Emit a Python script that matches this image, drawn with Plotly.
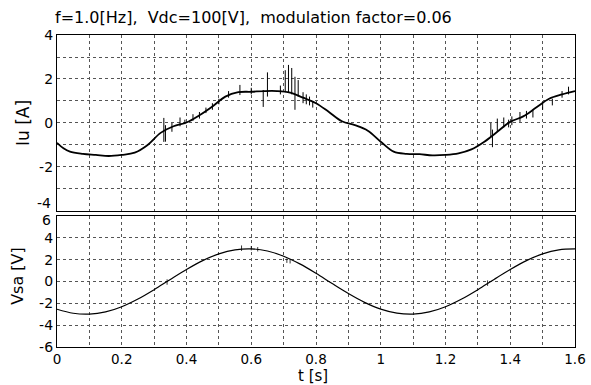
import plotly.graph_objects as go

# ---- data ----
t_iu = [0.00, 0.02, 0.04, 0.08, 0.12, 0.16, 0.20, 0.24, 0.28, 0.32, 0.36, 0.40, 0.44, 0.48,
        0.52, 0.56, 0.60, 0.64, 0.68, 0.72, 0.76, 0.80, 0.84, 0.88, 0.92, 0.96, 1.00, 1.04,
        1.08, 1.12, 1.16, 1.20, 1.24, 1.28, 1.32, 1.36, 1.40, 1.44, 1.48, 1.52, 1.56, 1.60]
iu = [-0.90, -1.15, -1.30, -1.40, -1.45, -1.50, -1.45, -1.35, -1.00, -0.45, -0.15, 0.02, 0.35, 0.75,
      1.20, 1.40, 1.42, 1.45, 1.45, 1.38, 1.15, 0.90, 0.50, 0.08, -0.10, -0.35, -0.85, -1.30,
      -1.40, -1.42, -1.47, -1.45, -1.38, -1.20, -0.85, -0.40, 0.05, 0.30, 0.70, 1.10, 1.30, 1.45]

# current spikes: time, low, high
sp_t = [0.330, 0.335, 0.355, 0.380, 0.395, 0.420, 0.440, 0.460, 0.480, 0.500, 0.530, 0.565,
        0.600, 0.637, 0.650, 0.690, 0.705, 0.715, 0.725, 0.735, 0.745, 0.760, 0.770, 0.780,
        0.790, 1.340, 1.345, 1.360, 1.380, 1.395, 1.405, 1.430, 1.450, 1.470, 1.500, 1.530,
        1.560, 1.580]
sp_lo = [-0.86, -0.85, -0.40, -0.15, -0.05, 0.10, 0.20, 0.45, 0.60, 0.85, 1.15, 1.27,
         1.30, 0.73, 1.20, 1.30, 1.40, 1.40, 1.30, 0.60, 1.20, 0.90, 0.85, 0.80,
         0.70, -0.63, -1.10, -0.40, -0.20, -0.20, -0.10, 0.05, 0.20, 0.25, 0.60, 0.80,
         1.15, 1.30]
sp_hi = [0.23, -0.10, 0.00, 0.25, 0.15, 0.40, 0.50, 0.70, 0.90, 1.10, 1.45, 1.73,
         1.60, 1.50, 2.30, 1.70, 2.40, 2.64, 2.50, 2.10, 1.95, 1.40, 1.30, 1.20,
         1.00, 0.00, -0.30, 0.20, 0.25, 0.15, 0.30, 0.50, 0.55, 0.60, 0.95, 1.10,
         1.45, 1.65]

t_v = [0.00, 0.05, 0.10, 0.15, 0.20, 0.25, 0.30, 0.35, 0.40, 0.45, 0.50, 0.55, 0.60, 0.65, 0.70,
       0.75, 0.80, 0.85, 0.90, 0.95, 1.00, 1.05, 1.10, 1.15, 1.20, 1.25, 1.30, 1.35, 1.40, 1.45,
       1.50, 1.55, 1.60]
vsa = [-2.54, -2.91, -2.99, -2.79, -2.31, -1.61, -0.75, 0.19, 1.10, 1.91, 2.53, 2.90, 2.99, 2.79, 2.31,
       1.61, 0.75, -0.19, -1.10, -1.91, -2.53, -2.90, -2.99, -2.79, -2.31, -1.61, -0.75, 0.19, 1.10, 1.91,
       2.53, 2.90, 2.99]

vsp_t = [0.340, 0.570, 0.600, 0.620, 0.710, 0.720, 1.330]
vsp_lo = [-0.30, 2.80, 2.85, 2.75, 1.70, 1.65, -0.40]
vsp_hi = [0.20, 3.30, 3.25, 3.15, 2.10, 2.05, 0.10]

x_ticks = [round(0.1 * i, 1) for i in range(17)]
x_text = ["0", "", "0.2", "", "0.4", "", "0.6", "", "0.8", "", "1", "", "1.2", "", "1.4", "", "1.6"]
iu_ticks = [-4, -3, -2, -1, 0, 1, 2, 3, 4]
iu_text = ["-4", "", "-2", "", "0", "", "2", "", "4"]
v_ticks = [-6, -4, -2, 0, 2, 4, 6]
v_text = ["-6", "-4", "-2", "0", "2", "4", "6"]

title = "f=1.0[Hz],  Vdc=100[V],  modulation factor=0.06"

# ---- build figure ----
def segs(ts, lo, hi):
    xs, ys = [], []
    for a, b, c in zip(ts, lo, hi):
        xs += [a, a, None]
        ys += [b, c, None]
    return xs, ys

fig = go.Figure()
fig.add_trace(go.Scatter(x=t_iu, y=iu, mode="lines", line=dict(color="black", width=1.8, shape="spline"),
                         xaxis="x", yaxis="y", showlegend=False))
sx, sy = segs(sp_t, sp_lo, sp_hi)
fig.add_trace(go.Scatter(x=sx, y=sy, mode="lines", line=dict(color="black", width=1),
                         xaxis="x", yaxis="y", showlegend=False))
fig.add_trace(go.Scatter(x=t_v, y=vsa, mode="lines", line=dict(color="black", width=1.2, shape="spline"),
                         xaxis="x2", yaxis="y2", showlegend=False))
vx, vy = segs(vsp_t, vsp_lo, vsp_hi)
fig.add_trace(go.Scatter(x=vx, y=vy, mode="lines", line=dict(color="black", width=0.8),
                         xaxis="x2", yaxis="y2", showlegend=False))

FAM = "DejaVu Sans, Liberation Sans, Arial, sans-serif"
font = dict(family=FAM, size=14, color="black")
xfont = dict(family=FAM, size=13.5, color="black")
axcommon = dict(showline=True, linecolor="black", linewidth=1.3, mirror=True, ticks="",
                showgrid=True, gridcolor="#555", gridwidth=1, griddash="dot", zeroline=False,
                tickfont=font, automargin=False)

# end labels that sit next to each other are placed as annotations with a small nudge
iu_axis_text = [""] + iu_text[1:]
v_axis_text = v_text[:-1] + [""]

fig.update_layout(
    width=591, height=385,
    margin=dict(l=57, r=16, t=35, b=38),
    paper_bgcolor="white", plot_bgcolor="white",
    font=font,
    xaxis=dict(axcommon, domain=[0, 1], range=[0, 1.6], tickmode="array", tickvals=x_ticks,
               ticktext=[""] * len(x_ticks), anchor="y"),
    yaxis=dict(axcommon, domain=[0.436, 1], range=[-4, 4], tickmode="array", tickvals=iu_ticks,
               ticktext=iu_axis_text, anchor="x"),
    xaxis2=dict(axcommon, domain=[0, 1], range=[0, 1.6], tickmode="array", tickvals=x_ticks,
                ticktext=x_text, anchor="y2", tickfont=xfont, ticklabelstandoff=0),
    yaxis2=dict(axcommon, domain=[0, 0.42], range=[-6, 6], tickmode="array", tickvals=v_ticks,
                ticktext=v_axis_text, anchor="x2"),
    annotations=[
        dict(text=title, xref="paper", yref="paper", x=-0.008, y=1.0, yshift=18,
             xanchor="left", yanchor="middle", showarrow=False, font=dict(font, size=16)),
        dict(text="Iu [A]", xref="paper", yref="paper", x=0, xshift=-34, y=0.718,
             xanchor="center", yanchor="middle", textangle=-90, showarrow=False, font=dict(font, size=17)),
        dict(text="Vsa [V]", xref="paper", yref="paper", x=0, xshift=-39, y=0.228,
             xanchor="center", yanchor="middle", textangle=-90, showarrow=False, font=dict(font, size=16)),
        dict(text="t [s]", xref="paper", yref="paper", x=0.494, y=0, yshift=-29,
             xanchor="center", yanchor="middle", showarrow=False, font=dict(font, size=15)),
        dict(text=iu_text[0], xref="paper", yref="y", x=0, xshift=-4, y=iu_ticks[0], yshift=8,
             xanchor="right", yanchor="middle", showarrow=False, font=font),
        dict(text=v_text[-1], xref="paper", yref="y2", x=0, xshift=-4, y=v_ticks[-1], yshift=-4,
             xanchor="right", yanchor="middle", showarrow=False, font=font),
    ],
)

fig.write_html("out.html")
